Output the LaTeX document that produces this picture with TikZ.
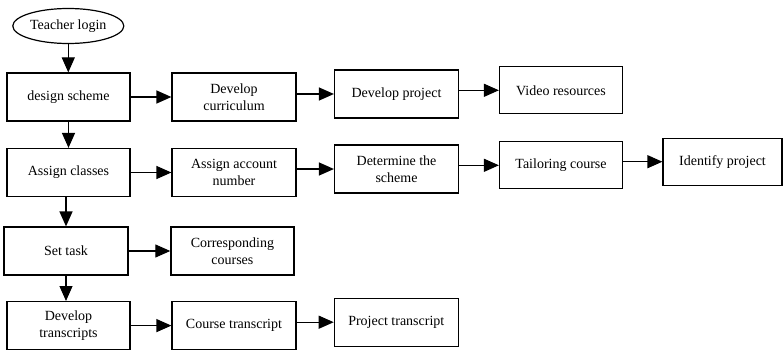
\documentclass[tikz,border=0pt]{standalone}
\usepackage{fontspec}
\setmainfont{Liberation Serif}
\usetikzlibrary{arrows.meta,shapes.geometric}
\begin{document}
\begin{tikzpicture}[x=1pt,y=-1pt,
  txt/.style={font=\fontsize{14}{17}\selectfont, align=center, inner sep=0pt},
  box/.style={txt, draw, line width=1.2pt, minimum width=#1, minimum height=48pt},
  box/.default=124pt,
  oval/.style={txt, draw, ellipse, line width=1.2pt, minimum width=111pt, minimum height=35pt},
  arr/.style={line width=1.2pt, -{Triangle[length=15pt,width=13pt]}}
]
\useasboundingbox (0,0) rectangle (783,350);

\node[oval] (tl) at (68.3,26) {Teacher login};

\node[box=123pt] (ds) at (68.5,97) {design scheme};
\node[box] (dc) at (234,97) {Develop\\curriculum};
\node[box] (dp) at (396.5,94) {Develop project};
\node[box=123pt, minimum height=47pt] (vr) at (561,90.3) {Video resources};

\node[box=123pt] (ac) at (68.5,172.5) {Assign classes};
\node[box] (aan) at (234,172.5) {Assign account\\number};
\node[box] (dts) at (396.5,169) {Determine the\\scheme};
\node[box=123pt, minimum height=47pt] (tc) at (561,165.3) {Tailoring course};
\node[box=119pt, minimum height=47pt] (ip) at (722.5,161.7) {Identify project};

\node[box] (st) at (66,251) {Set task};
\node[box=123pt] (cc) at (232.4,251) {Corresponding\\courses};

\node[box=123pt] (dt) at (68.5,325.6) {Develop\\transcripts};
\node[box] (ct) at (234,325.6) {Course transcript};
\node[box] (pt) at (396.3,322.2) {Project transcript};

% vertical connectors
\draw[arr] (tl.south) -- (tl.south |- ds.north);
\draw[arr] (ds.south) -- (ds.south |- ac.north);
\draw[arr] (st.north |- ac.south) -- (st.north);
\draw[arr] (st.south) -- (st.south |- dt.north);

% horizontal connectors
\draw[arr] (ds.east |- dc.west) -- (dc.west);
\draw[arr] (dc.east |- dp.west) -- (dp.west);
\draw[arr] (dp.east |- vr.west) -- (vr.west);

\draw[arr] (ac.east |- aan.west) -- (aan.west);
\draw[arr] (aan.east |- dts.west) -- (dts.west);
\draw[arr] (dts.east |- tc.west) -- (tc.west);
\draw[arr] (tc.east |- ip.west) -- (ip.west);

\draw[arr] (st.east |- cc.west) -- (cc.west);

\draw[arr] (dt.east |- ct.west) -- (ct.west);
\draw[arr] (ct.east |- pt.west) -- (pt.west);
\end{tikzpicture}
\end{document}
